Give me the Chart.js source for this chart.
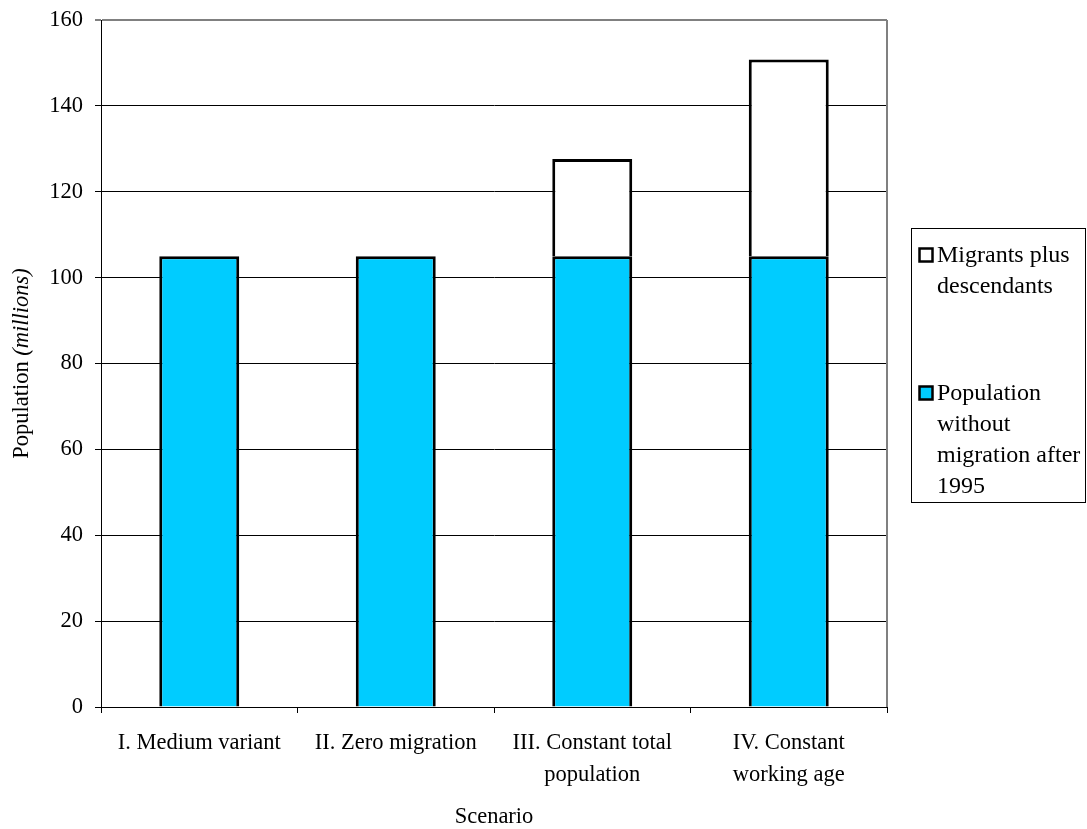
<!DOCTYPE html>
<html>
<head>
<meta charset="utf-8">
<script src="https://cdn.jsdelivr.net/npm/chart.js@4.4.1/dist/chart.umd.min.js"></script>
<style>
  html, body { margin: 0; padding: 0; background: #fff; }
  #wrap { width: 1087px; height: 829px; }
</style>
</head>
<body>
<div id="wrap"><canvas id="barChart" width="1087" height="829"></canvas></div>
<script>
// data
var scenarios = [
  "I. Medium variant",
  "II. Zero migration",
  ["III. Constant total", "population"],
  ["IV. Constant", "working age"]
];
var withoutMigration = [105, 105, 105, 105];
var migrantsPlusDescendants = [null, null, 22.6, 45.8];
var yMin = 0, yMax = 160, yStep = 20;

var legendMigrants = ["Migrants plus", "descendants"];
var legendWithout = ["Population", "without", "migration after", "1995"];
var yTitle = "Population ";
var yTitleItalic = "(millions)";
var xTitle = "Scenario";

var serif = "'Liberation Serif', 'Times New Roman', serif";
var blue = "#00CCFF";

var extras = {
  id: 'extras',
  afterDraw: function(chart) {
    var ctx = chart.ctx;
    var area = chart.chartArea;
    ctx.save();

    // gray right edge of plot
    ctx.strokeStyle = '#808080';
    ctx.lineWidth = 2;
    ctx.beginPath();
    ctx.moveTo(area.right, area.top);
    ctx.lineTo(area.right, area.bottom);
    ctx.stroke();

    ctx.fillStyle = '#000';
    ctx.textBaseline = 'middle';

    // y title with italic part
    ctx.save();
    ctx.translate(22, (area.top + area.bottom) / 2);
    ctx.rotate(-Math.PI / 2);
    ctx.font = '22.5px ' + serif;
    var w1 = ctx.measureText(yTitle).width;
    ctx.font = 'italic 22.5px ' + serif;
    var w2 = ctx.measureText(yTitleItalic).width;
    var sx = -(w1 + w2) / 2;
    ctx.textAlign = 'left';
    ctx.font = '22.5px ' + serif;
    ctx.fillText(yTitle, sx, 0);
    ctx.font = 'italic 22.5px ' + serif;
    ctx.fillText(yTitleItalic, sx + w1, 0);
    ctx.restore();

    // x title
    ctx.font = '22.5px ' + serif;
    ctx.textAlign = 'center';
    ctx.fillText(xTitle, (area.left + area.right) / 2, 817);

    // legend box
    ctx.strokeStyle = '#000';
    ctx.lineWidth = 1;
    ctx.strokeRect(911.5, 228.5, 174, 274);

    var items = [
      { lines: legendMigrants, ds: chart.data.datasets[1], top: 248 },
      { lines: legendWithout, ds: chart.data.datasets[0], top: 386 }
    ];
    ctx.font = '24px ' + serif;
    ctx.textAlign = 'left';
    ctx.textBaseline = 'alphabetic';
    items.forEach(function(it) {
      ctx.fillStyle = it.ds.backgroundColor;
      ctx.fillRect(919.5, it.top + 0.5, 13, 13);
      ctx.lineWidth = 2.5;
      ctx.strokeStyle = '#000';
      ctx.strokeRect(919.5, it.top + 0.5, 13, 13);
      ctx.fillStyle = '#000';
      it.lines.forEach(function(line, i) {
        ctx.fillText(line, 937, it.top + 14 + i * 31);
      });
    });
    ctx.restore();
  }
};

var ctx = document.getElementById("barChart");
var myBarChart = new Chart(ctx, {
  type: 'bar',
  data: {
    labels: scenarios,
    datasets: [
      {
        label: "Population without migration after 1995",
        data: withoutMigration,
        backgroundColor: blue,
        borderColor: "#000",
        borderWidth: 3,
        barPercentage: 0.407,
        categoryPercentage: 1
      },
      {
        label: "Migrants plus descendants",
        data: migrantsPlusDescendants,
        backgroundColor: "#ffffff",
        borderColor: "#000",
        borderWidth: 3,
        barPercentage: 0.407,
        categoryPercentage: 1
      }
    ]
  },
  options: {
    responsive: false,
    animation: false,
    devicePixelRatio: 1,
    layout: { padding: { left: 0, right: 200, top: 20, bottom: 0 } },
    plugins: {
      legend: { display: false },
      tooltip: { enabled: false },
      title: { display: false }
    },
    scales: {
      x: {
        stacked: true,
        afterFit: function(scale) {
          scale.height = 122;
          scale.paddingLeft = 0;
          scale.paddingRight = 0;
        },
        grid: {
          offset: true,
          drawOnChartArea: false,
          drawTicks: true,
          tickLength: 6,
          color: '#000'
        },
        border: { color: '#000', width: 1 },
        ticks: {
          color: '#000',
          padding: 14,
          maxRotation: 0,
          autoSkip: false,
          font: { family: serif, size: 22.5, lineHeight: 1.42 }
        }
      },
      y: {
        stacked: true,
        min: yMin,
        max: yMax,
        afterFit: function(scale) {
          scale.width = 101;
          scale.paddingTop = 0;
          scale.paddingBottom = 0;
        },
        grid: {
          color: function(c) { return c.tick && c.tick.value === yMax ? '#808080' : '#000'; },
          lineWidth: function(c) { return c.tick && c.tick.value === yMax ? 2 : 1; },
          tickLength: 6
        },
        border: { color: '#000', width: 1 },
        ticks: {
          stepSize: yStep,
          color: '#000',
          padding: 12,
          font: { family: serif, size: 22.5 }
        }
      }
    }
  },
  plugins: [extras]
});
</script>
</body>
</html>
